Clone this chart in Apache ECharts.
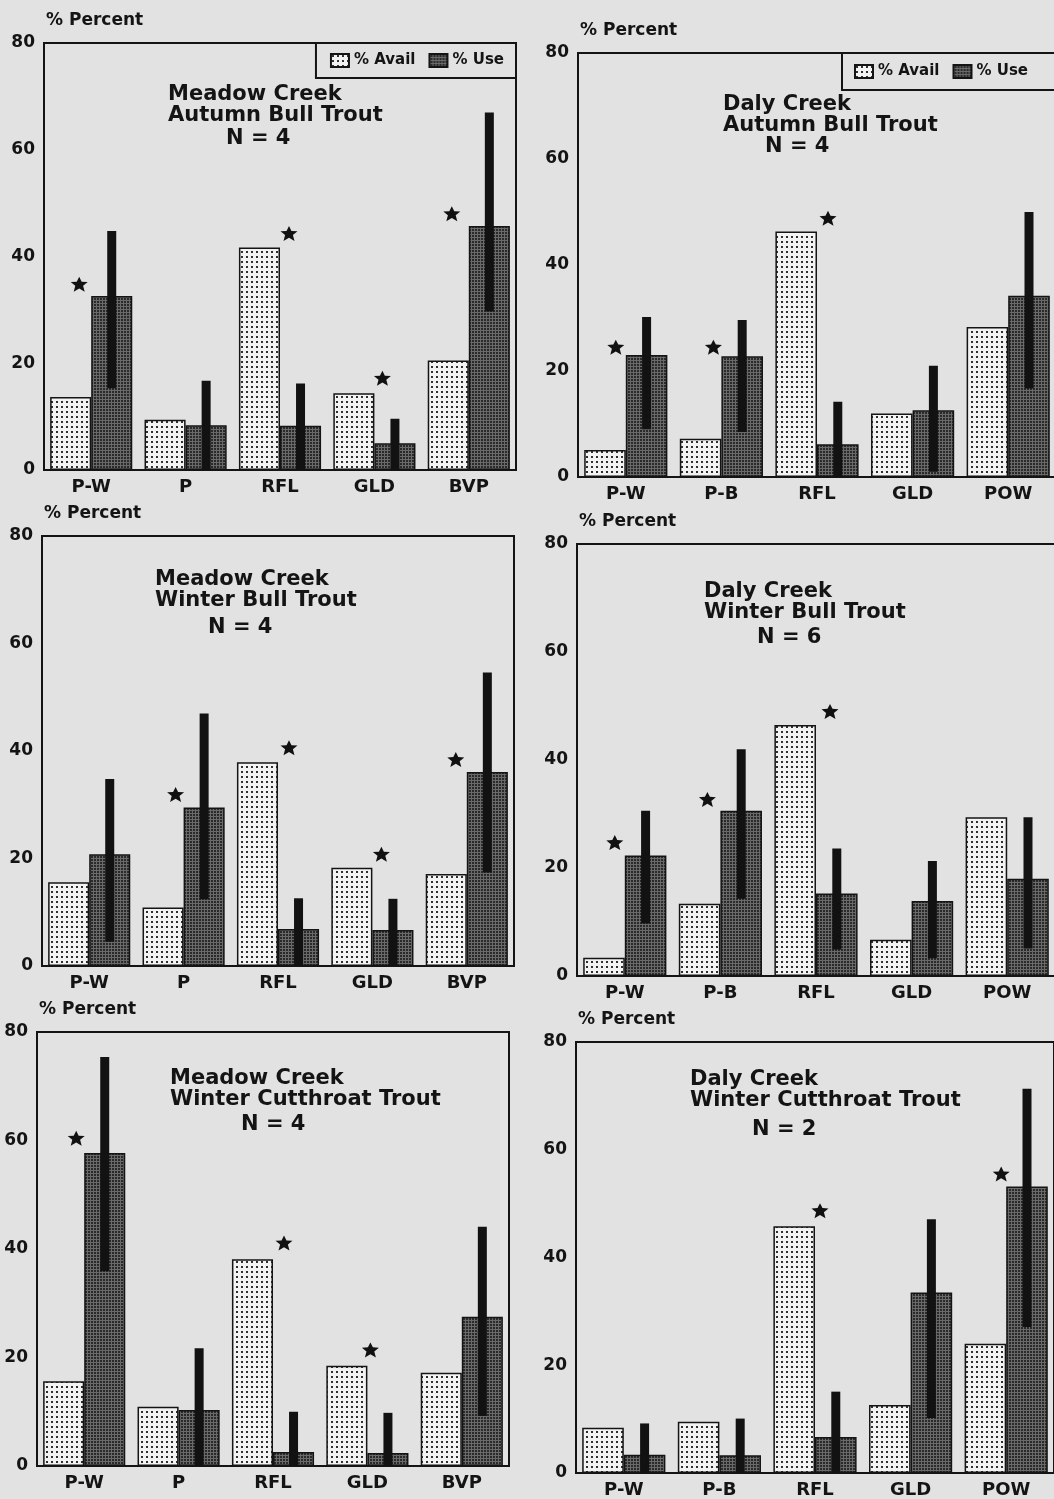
<!DOCTYPE html>
<html>
<head>
<meta charset="utf-8">
<script src="https://cdn.jsdelivr.net/npm/echarts@6/dist/echarts.min.js"></script>
<style>
html,body{margin:0;padding:0;background:#e2e2e2;overflow:hidden;}
#c{width:1120px;height:1499px;}
</style>
</head>
<body>
<div id="c"></div>
<script>
// ---------- data ----------
const categoriesMeadow = ['P-W', 'P', 'RFL', 'GLD', 'BVP'];
const categoriesDaly = ['P-W', 'P-B', 'RFL', 'GLD', 'POW'];
const yTicks = [0, 20, 40, 60, 80];

// Meadow Creek, Autumn Bull Trout, N = 4
const mabAvail = [13.7, 9.4, 41.7, 14.4, 20.5];
const mabUse = [32.6, 8.4, 8.3, 5.0, 45.7];
const mabLow = [15.3, 0, 0, 0, 29.7];
const mabHigh = [44.8, 16.7, 16.2, 9.6, 67.0];
const mabStars = [[0, 34.8], [2, 44.3], [3, 17.2], [4, 48.0]];

// Daly Creek, Autumn Bull Trout, N = 4
const dabAvail = [5.1, 7.2, 46.3, 12.0, 28.3];
const dabUse = [23.0, 22.8, 6.2, 12.6, 34.2];
const dabLow = [9.0, 8.5, 0, 1.0, 16.7];
const dabHigh = [30.2, 29.6, 14.2, 21.0, 50.0];
const dabStars = [[0, 24.5], [1, 24.5], [2, 48.8]];

// Meadow Creek, Winter Bull Trout, N = 4
const mwbAvail = [15.6, 10.9, 37.9, 18.3, 17.1];
const mwbUse = [20.8, 29.5, 6.9, 6.7, 36.1];
const mwbLow = [4.5, 12.4, 0, 0, 17.4];
const mwbHigh = [34.8, 47.0, 12.6, 12.5, 54.6];
const mwbStars = [[1, 31.9], [2, 40.6], [3, 20.8], [4, 38.4]];

// Daly Creek, Winter Bull Trout, N = 6
const dwbAvail = [3.4, 13.4, 46.5, 6.7, 29.4];
const dwbUse = [22.3, 30.6, 15.3, 13.9, 18.0];
const dwbLow = [9.7, 14.3, 4.9, 3.3, 5.1];
const dwbHigh = [30.6, 42.0, 23.6, 21.3, 29.4];
const dwbStars = [[0, 24.7], [1, 32.7], [2, 49.0]];

// Meadow Creek, Winter Cutthroat Trout, N = 4
const mwcAvail = [15.6, 10.9, 38.1, 18.5, 17.2];
const mwcUse = [57.7, 10.3, 2.6, 2.4, 27.5];
const mwcLow = [35.9, 0, 0, 0, 9.2];
const mwcHigh = [75.4, 21.7, 10.0, 9.8, 44.1];
const mwcStars = [[0, 60.4], [2, 41.1], [3, 21.4]];

// Daly Creek, Winter Cutthroat Trout, N = 2
const dwcAvail = [8.4, 9.5, 45.8, 12.6, 24.0];
const dwcUse = [3.4, 3.3, 6.7, 33.5, 53.2];
const dwcLow = [0, 0, 0, 10.2, 27.1];
const dwcHigh = [9.2, 10.1, 15.1, 47.1, 71.3];
const dwcStars = [[2, 48.7], [4, 55.5]];

const panelTitles = [
  ['Meadow Creek\nAutumn Bull Trout', 'N = 4'],
  ['Daly Creek\nAutumn Bull Trout', 'N = 4'],
  ['Meadow Creek\nWinter Bull Trout', 'N = 4'],
  ['Daly Creek\nWinter Bull Trout', 'N = 6'],
  ['Meadow Creek\nWinter Cutthroat Trout', 'N = 4'],
  ['Daly Creek\nWinter Cutthroat Trout', 'N = 2']
];

// ---------- layout / style ----------
const W = 1120;
const FONT = 'DejaVu Sans';
const grids = [
  {left: 44, top: 43, width: 472, height: 427},
  {left: 578, top: 53, width: 478, height: 424},
  {left: 42, top: 536, width: 472, height: 430},
  {left: 577, top: 544, width: 478, height: 432},
  {left: 37, top: 1032, width: 472, height: 434},
  {left: 576, top: 1042, width: 478, height: 434}
];
// title positions: [left, top] of two-line block, [left, top] of N line
const titlePos = [
  [[168, 84], [226, 128]],
  [[723, 94], [765, 136]],
  [[155, 569], [208, 617]],
  [[704, 581], [757, 627]],
  [[170, 1068], [241, 1114]],
  [[690, 1069], [752, 1119]]
];
const starOffsets = [
  [-12, 9, 8, -17],
  [-10, -8, 11],
  [-8, 11, 9, -11],
  [-10, -13, 14],
  [-8, 11, 3],
  [5, -5]
];

function makePattern(kind) {
  const c = document.createElement('canvas');
  const ctx = c.getContext('2d');
  if (kind === 'avail') {
    c.width = 5; c.height = 5;
    ctx.fillStyle = '#f3f3f3'; ctx.fillRect(0, 0, 5, 5);
    ctx.fillStyle = '#2e2e2e'; ctx.fillRect(1, 1, 2, 2);
  } else {
    c.width = 3; c.height = 3;
    ctx.fillStyle = '#2a2a2a'; ctx.fillRect(0, 0, 3, 3);
    ctx.fillStyle = '#6a6a6a'; ctx.fillRect(0, 0, 3, 1); ctx.fillRect(0, 0, 1, 3);
  }
  return {image: c, repeat: 'repeat'};
}
const availFill = makePattern('avail');
const useFill = makePattern('use');

const BAR_FRAC = 0.435;
const USE_OFFSET = BAR_FRAC / 2;

const panels = [
  {cats: categoriesMeadow, avail: mabAvail, use: mabUse, low: mabLow, high: mabHigh, stars: mabStars},
  {cats: categoriesDaly, avail: dabAvail, use: dabUse, low: dabLow, high: dabHigh, stars: dabStars},
  {cats: categoriesMeadow, avail: mwbAvail, use: mwbUse, low: mwbLow, high: mwbHigh, stars: mwbStars},
  {cats: categoriesDaly, avail: dwbAvail, use: dwbUse, low: dwbLow, high: dwbHigh, stars: dwbStars},
  {cats: categoriesMeadow, avail: mwcAvail, use: mwcUse, low: mwcLow, high: mwcHigh, stars: mwcStars},
  {cats: categoriesDaly, avail: dwcAvail, use: dwcUse, low: dwcLow, high: dwcHigh, stars: dwcStars}
];

const STAR = 'path://M50,0 L64,29 L98,31 L72,53 L81,88 L50,69 L19,88 L28,53 L2,31 L36,29 Z';

function renderErr(params, api) {
  const idx = api.value(0);
  const x = api.coord([idx, 0])[0];
  const band = api.size([1, 0])[0];
  const cx = x + band * USE_OFFSET;
  const y1 = api.coord([idx, api.value(1)])[1];
  const y2 = api.coord([idx, api.value(2)])[1];
  return {
    type: 'rect',
    shape: {x: cx - 4.5, y: y2, width: 9, height: y1 - y2},
    style: {fill: '#121212'}
  };
}

const option = {
  backgroundColor: '#e2e2e2',
  animation: false,
  textStyle: {fontFamily: FONT},
  grid: grids.map(g => Object.assign({show: true, borderColor: '#141414', borderWidth: 2, backgroundColor: 'transparent'}, g)),
  xAxis: [], yAxis: [], series: [], title: [],
  legend: [
    {right: W - 516, top: 43, padding: [10, 12, 10, 14]},
    {left: 842, top: 53, padding: [11, 40, 11, 12]}
  ].map(p => Object.assign({
    data: ['% Avail', '% Use'],
    orient: 'horizontal',
    icon: 'rect',
    itemWidth: 18, itemHeight: 13, itemGap: 13,
    borderColor: '#141414', borderWidth: 2,
    backgroundColor: '#e2e2e2',
    selectedMode: false,
    textStyle: {fontFamily: FONT, fontWeight: 'bold', fontSize: 15, color: '#141414'}
  }, p))
};

panels.forEach((p, i) => {
  option.xAxis.push({
    type: 'category', gridIndex: i, data: p.cats,
    axisLine: {show: true, lineStyle: {color: '#141414', width: 2}},
    axisTick: {show: false},
    axisLabel: {fontFamily: FONT, fontWeight: 'bold', fontSize: 18, color: '#141414', margin: 8}
  });
  option.yAxis.push({
    type: 'value', gridIndex: i, min: yTicks[0], max: yTicks[yTicks.length - 1], interval: 20,
    name: '% Percent', nameLocation: 'end', nameGap: 22,
    nameTextStyle: {fontFamily: FONT, fontWeight: 'bold', fontSize: 17, color: '#141414', align: 'left', verticalAlign: 'middle', padding: [0, 0, 0, 2]},
    axisLine: {show: true, lineStyle: {color: '#141414', width: 2}},
    axisTick: {show: false},
    splitLine: {show: false},
    axisLabel: {fontFamily: FONT, fontWeight: 'bold', fontSize: 17, color: '#141414', margin: 9}
  });
  option.series.push({
    name: '% Avail', type: 'bar', xAxisIndex: i, yAxisIndex: i,
    data: p.avail, barWidth: (BAR_FRAC * 100) + '%', barGap: '0%',
    itemStyle: {color: availFill, borderColor: '#141414', borderWidth: 1.5}
  });
  option.series.push({
    name: '% Use', type: 'bar', xAxisIndex: i, yAxisIndex: i,
    data: p.use, barWidth: (BAR_FRAC * 100) + '%', barGap: '0%',
    itemStyle: {color: useFill, borderColor: '#141414', borderWidth: 1.5}
  });
  option.series.push({
    name: 'range', type: 'custom', xAxisIndex: i, yAxisIndex: i, z: 5,
    renderItem: renderErr,
    encode: {x: 0, y: [1, 2]},
    data: p.low.map((lo, k) => [k, lo, p.high[k]])
  });
  option.series.push({
    name: 'sig', type: 'scatter', xAxisIndex: i, yAxisIndex: i, z: 6,
    symbol: STAR, symbolSize: [17, 15],
    itemStyle: {color: '#111111', opacity: 1},
    data: p.stars.map((s, k) => ({value: s, symbolOffset: [starOffsets[i][k] || 0, 0]}))
  });
  const tp = titlePos[i];
  option.title.push({
    text: panelTitles[i][0], left: tp[0][0], top: tp[0][1], padding: 0,
    textStyle: {fontFamily: FONT, fontWeight: 'bold', fontSize: 21, lineHeight: 21, color: '#141414'}
  });
  option.title.push({
    text: panelTitles[i][1], left: tp[1][0], top: tp[1][1], padding: 0,
    textStyle: {fontFamily: FONT, fontWeight: 'bold', fontSize: 21, lineHeight: 21, color: '#141414'}
  });
});

const chart = echarts.init(document.getElementById('c'), null, {renderer: 'canvas'});
chart.setOption(option);
</script>
</body>
</html>
